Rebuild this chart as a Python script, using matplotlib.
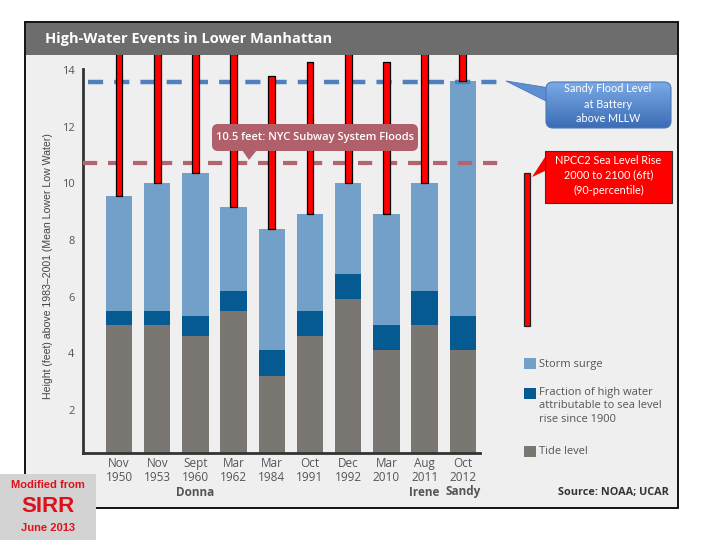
import matplotlib
matplotlib.use("Agg")
import matplotlib.pyplot as plt
import numpy as np
from matplotlib.patches import FancyBboxPatch, Rectangle, Polygon
from matplotlib.transforms import blended_transform_factory

# ---------------- data ----------------
events = ["Nov\n1950", "Nov\n1953", "Sept\n1960", "Mar\n1962", "Mar\n1984",
          "Oct\n1991", "Dec\n1992", "Mar\n2010", "Aug\n2011", "Oct\n2012"]
storm_names = ["", "", "Donna", "", "", "", "", "", "Irene", "Sandy"]
tide_level = [5.0, 5.0, 4.6, 5.5, 3.2, 4.6, 5.9, 4.1, 5.0, 4.1]
sea_level_fraction = [0.5, 0.5, 0.7, 0.7, 0.9, 0.9, 0.9, 0.9, 1.2, 1.2]
storm_surge = [4.05, 4.5, 5.05, 2.95, 4.3, 3.4, 3.2, 3.9, 3.8, 8.3]
projected_rise = 5.4          # NPCC2 sea level rise added on top of each event
npcc_range = [4.95, 10.35]    # NPCC2 reference bar
sandy_level = 13.58
subway_level = 10.72
y_ticks = [2, 4, 6, 8, 10, 12, 14]

C_SURGE = "#73a0c8"
C_FRAC = "#055b91"
C_TIDE = "#7a7772"
C_RED = "#ff0000"

plt.rcParams["font.family"] = ["Open Sans", "DejaVu Sans"]

fig = plt.figure(figsize=(7.2, 5.4), dpi=100)
fig.patch.set_facecolor("white")

# background (pixel coordinates)
bg = fig.add_axes([0, 0, 1, 1], zorder=0)
bg.set_xlim(0, 720)
bg.set_ylim(540, 0)
bg.axis("off")
bg.add_patch(Rectangle((25, 22), 653, 486, facecolor="#efefef",
                       edgecolor="black", lw=1.3))
bg.add_patch(Rectangle((25.6, 22.6), 651.8, 32.4, facecolor="#6d6d6d",
                       edgecolor="none"))

# main axes
L, R, B, T = 83, 678, 453, 55
ax = fig.add_axes([L / 720, (540 - B) / 540, (R - L) / 720, (B - T) / 540], zorder=2)
ax.set_facecolor("none")
x0, dx = 119.0, 38.2
ax.set_xlim((L - x0) / dx, (R - x0) / dx)
y14, py = 70.0, 28.33
ax.set_ylim(14 - (B - y14) / py, 14 + (y14 - T) / py)

x = np.arange(len(events))
tide = np.array(tide_level)
frac = np.array(sea_level_fraction)
surge = np.array(storm_surge)
totals = tide + frac + surge

bw = 0.69
ax.bar(x, tide, width=bw, color=C_TIDE, zorder=2)
ax.bar(x, frac, bottom=tide, width=bw, color=C_FRAC, zorder=2)
ax.bar(x, surge, bottom=tide + frac, width=bw, color=C_SURGE, zorder=2)

# reference lines
ax.hlines(sandy_level, -0.81, 10.0, color="#4f80bd", lw=3.2,
          linestyles=(0, (3.4, 2.5)), zorder=3)
ax.hlines(subway_level, ax.get_xlim()[0], 10.0, color="#b4646f", lw=3.0,
          linestyles=(0, (3.4, 2.6)), zorder=3)

# projected rise bars
ax.bar(x, projected_rise, bottom=totals, width=0.18, color=C_RED,
       edgecolor="black", lw=0.9, zorder=4)
ax.bar([10.68], [npcc_range[1] - npcc_range[0]], bottom=[npcc_range[0]],
       width=0.18, color=C_RED, edgecolor="#222222", lw=0.9, zorder=4)

for s in ["top", "right"]:
    ax.spines[s].set_visible(False)
ax.spines["left"].set_color("#333333")
ax.spines["bottom"].set_color("#333333")
ax.spines["left"].set_linewidth(2)
ax.spines["bottom"].set_linewidth(2)
ax.spines["left"].set_bounds(ax.get_ylim()[0], 14.05)
ax.spines["bottom"].set_bounds(ax.get_xlim()[0], (480 - x0) / dx)

ax.set_yticks(y_ticks)
ax.tick_params(axis="y", length=0, pad=6, labelsize=8, labelcolor="#555555")
ax.set_xticks(x, events)
ax.tick_params(axis="x", length=0, pad=3, labelsize=8.5, labelcolor="#555555")
for lab in ax.get_xticklabels():
    lab.set_linespacing(1.05)

trans = blended_transform_factory(ax.transData, bg.transData)
for i, nm in enumerate(storm_names):
    if nm:
        ax.text(i, 492, nm, transform=trans, ha="center", va="center",
                fontsize=8.5, fontweight="bold", color="#555555")

fig.text(48 / 720, 1 - 266 / 540,
         "Height (feet) above 1983\u20132001 (Mean Lower Low Water)",
         rotation=90, ha="center", va="center", fontsize=7.6, color="#444444",
         family=["Liberation Sans", "DejaVu Sans"])

# foreground overlay (pixel coordinates)
fg = fig.add_axes([0, 0, 1, 1], zorder=5)
fg.set_xlim(0, 720)
fg.set_ylim(540, 0)
fg.axis("off")
fg.patch.set_alpha(0)

fg.text(45, 38.5, "High-Water Events in Lower Manhattan", color="white",
        fontsize=10.5, fontweight="bold", ha="left", va="center")

# subway callout
sub = FancyBboxPatch((212, 124), 206, 27, boxstyle="round,pad=0,rounding_size=6",
                     facecolor="#b0606a", edgecolor="none", zorder=6)
fg.add_patch(sub)
fg.add_patch(Polygon([(242, 150), (257, 150), (249, 160)], closed=True,
                     facecolor="#b0606a", edgecolor="none", zorder=6))
fg.text(315, 137.5, "10.5 feet: NYC Subway System Floods", color="white",
        fontsize=8, fontweight="semibold", ha="center", va="center", zorder=7)

# Sandy callout with gradient
sandy = FancyBboxPatch((546, 82), 125, 46, boxstyle="round,pad=0,rounding_size=7",
                       facecolor="none", edgecolor="#4a78b8", lw=0.8, zorder=7)
fg.add_patch(Polygon([(506, 81), (550, 88), (550, 103)], closed=True,
                     facecolor="#5d8fd3", edgecolor="#4a78b8", lw=0.6, zorder=5))
grad = np.linspace(0, 1, 64).reshape(-1, 1)
from matplotlib.colors import LinearSegmentedColormap
cm = LinearSegmentedColormap.from_list("g", ["#7aaae6", "#3c6cb4"])
im = fg.imshow(grad, cmap=cm, extent=(546, 671, 128, 82), aspect="auto", zorder=6)
fg.add_patch(FancyBboxPatch((546, 82), 125, 46, boxstyle="round,pad=0,rounding_size=7",
                            facecolor="none", edgecolor="none"))
im.set_clip_path(fg.patches[-1])
fg.add_patch(sandy)
fg.set_xlim(0, 720)
fg.set_ylim(540, 0)
for yy, t in zip([89, 104, 119], ["Sandy Flood Level", "at Battery", "above MLLW"]):
    fg.text(608, yy, t, color="white", fontsize=7.8, ha="center", va="center",
            family=["Lato", "DejaVu Sans"], zorder=8)

# NPCC2 callout
fg.add_patch(Polygon([(532, 177), (547, 154), (547, 170)], closed=True,
                     facecolor=C_RED, edgecolor="none", zorder=6))
fg.add_patch(Rectangle((545, 151), 127, 52, facecolor=C_RED,
                       edgecolor="#333333", lw=0.8, zorder=6))
for yy, t in zip([160, 175, 190], ["NPCC2 Sea Level Rise", "2000 to 2100 (6ft)",
                                  "(90-percentile)"]):
    fg.text(608.5, yy, t, color="white", fontsize=7.8, ha="center", va="center",
            family=["Lato", "DejaVu Sans"], zorder=8)

# legend
fg.add_patch(Rectangle((524, 358), 12, 11, facecolor=C_SURGE, edgecolor="none"))
fg.text(539, 364, "Storm surge", fontsize=8, color="#555555", va="center")
fg.add_patch(Rectangle((524, 388), 12, 11, facecolor=C_FRAC, edgecolor="none"))
for yy, t in zip([392, 406, 420], ["Fraction of high water",
                                   "attributable to sea level",
                                   "rise since 1900"]):
    fg.text(539, yy, t, fontsize=8, color="#555555", va="center")
fg.add_patch(Rectangle((524, 446), 12, 11, facecolor=C_TIDE, edgecolor="none"))
fg.text(539, 451, "Tide level", fontsize=8, color="#555555", va="center")
fg.text(669, 493, "Source: NOAA; UCAR", fontsize=7.8, fontweight="bold",
        color="#333333", ha="right", va="center")

# "Modified from SIRR" box
fg.add_patch(Rectangle((0, 474), 96, 66, facecolor="#d3d3d3", edgecolor="none",
                       zorder=6))
sfam = ["Liberation Sans Narrow", "Liberation Sans", "DejaVu Sans"]
fg.text(48, 485, "Modified from", color="#e0101a", fontsize=8, fontweight="bold",
        ha="center", va="center", family=sfam, zorder=7)
fg.text(48, 507, "SIRR", color="#e0101a", fontsize=16, fontweight="bold",
        ha="center", va="center", family=sfam, zorder=7)
fg.text(48, 528, "June 2013", color="#e0101a", fontsize=8, fontweight="bold",
        ha="center", va="center", family=sfam, zorder=7)

fig.savefig("out.png", dpi=100)
